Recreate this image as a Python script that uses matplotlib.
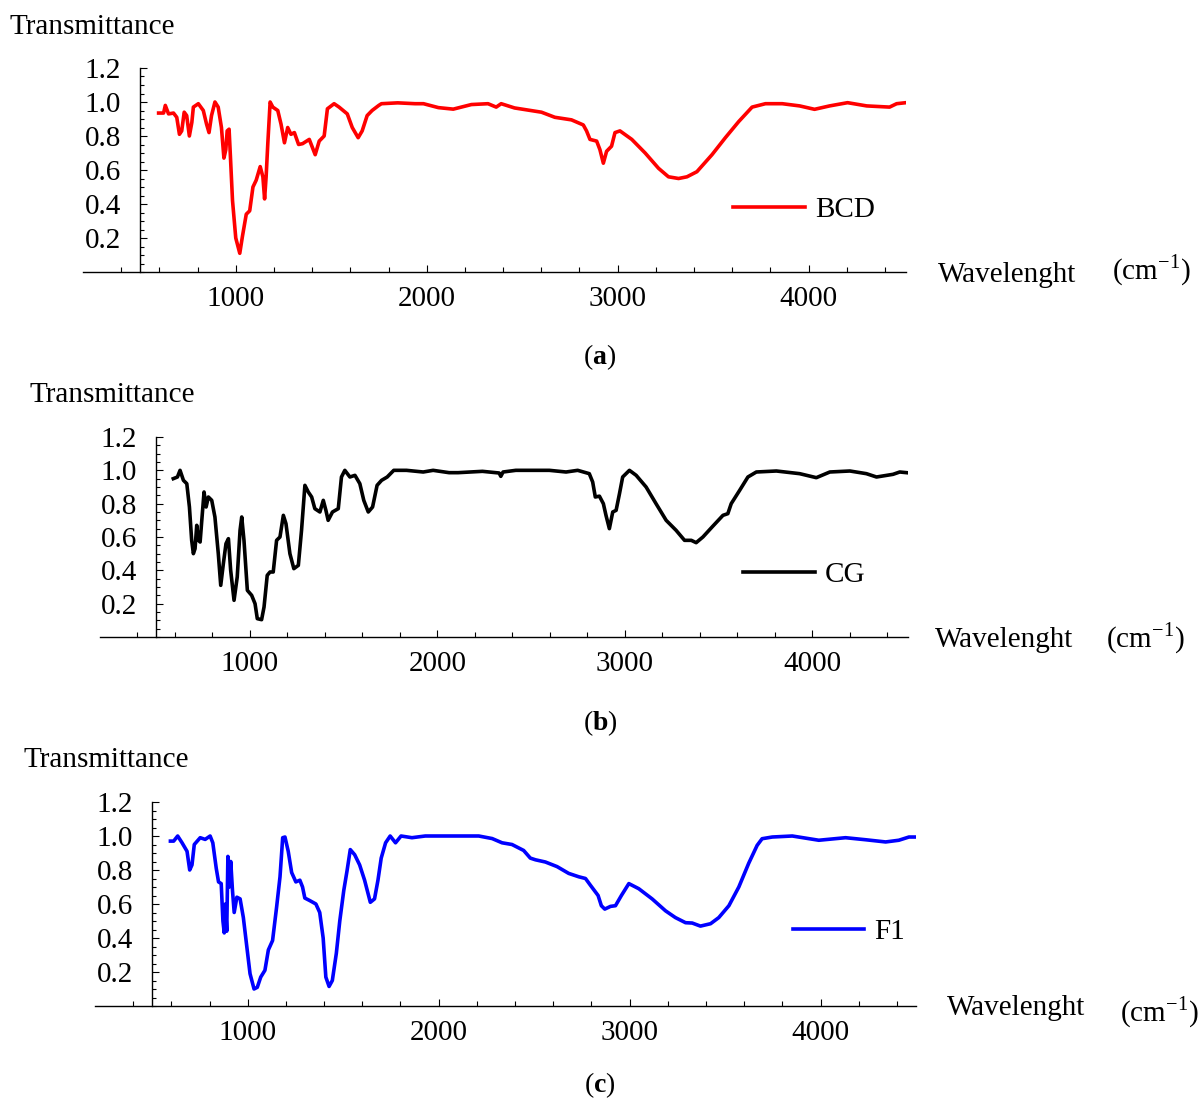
import matplotlib
matplotlib.use("Agg")
import matplotlib.pyplot as plt
from matplotlib.ticker import FixedLocator, MultipleLocator, FormatStrFormatter

plt.rcParams['font.family'] = ['Liberation Serif', 'DejaVu Serif']
plt.rcParams['mathtext.fontset'] = 'custom'
plt.rcParams['mathtext.rm'] = 'Liberation Serif'
plt.rcParams['mathtext.bf'] = 'Liberation Serif:bold'

# FTIR spectra (wavenumber in cm^-1, transmittance)
bcd_x = [596, 622, 631, 648, 674, 691, 705, 717, 730, 743, 757, 770, 778, 804, 830, 847,
         860, 873, 891, 908, 925, 938, 948, 955, 965, 972, 983, 1000, 1021, 1035, 1055,
         1073, 1090, 1107, 1128, 1142, 1151, 1159, 1168, 1180, 1194, 1220, 1237, 1255,
         1272, 1289, 1307, 1329, 1350, 1385, 1416, 1437, 1463, 1480, 1515, 1541, 1584,
         1610, 1641, 1662, 1688, 1714, 1749, 1763, 1848, 1939, 1983, 2061, 2139, 2234,
         2321, 2364, 2390, 2460, 2601, 2671, 2758, 2820, 2837, 2855, 2890, 2907, 2925,
         2942, 2968, 2986, 3012, 3074, 3144, 3214, 3266, 3319, 3363, 3415, 3494, 3564,
         3634, 3704, 3774, 3862, 3953, 4031, 4110, 4204, 4304, 4424, 4461, 4510]
bcd_y = [0.935, 0.935, 0.98, 0.93, 0.935, 0.91, 0.81, 0.83, 0.94, 0.92, 0.80, 0.88, 0.97,
         0.99, 0.95, 0.87, 0.82, 0.92, 1.00, 0.97, 0.85, 0.67, 0.72, 0.83, 0.84, 0.68,
         0.42, 0.20, 0.11, 0.21, 0.34, 0.36, 0.50, 0.54, 0.62, 0.56, 0.43, 0.56, 0.76,
         1.00, 0.97, 0.95, 0.87, 0.76, 0.85, 0.81, 0.82, 0.75, 0.755, 0.78, 0.69, 0.77,
         0.80, 0.96, 0.99, 0.97, 0.93, 0.85, 0.79, 0.83, 0.92, 0.95, 0.98, 0.99, 0.995,
         0.99, 0.99, 0.967, 0.958, 0.985, 0.99, 0.97, 0.99, 0.965, 0.94, 0.91, 0.895,
         0.865, 0.83, 0.78, 0.77, 0.72, 0.64, 0.71, 0.74, 0.82, 0.83, 0.78, 0.70, 0.61,
         0.56, 0.55, 0.56, 0.59, 0.69, 0.79, 0.885, 0.97, 0.99, 0.99, 0.977, 0.957,
         0.977, 0.996, 0.977, 0.97, 0.99, 0.996]

cg_x = [591, 613, 627, 645, 663, 677, 689, 698, 707, 716, 725, 734, 743, 755, 766, 778,
        796, 813, 831, 844, 858, 872, 885, 897, 915, 932, 947, 956, 968, 986, 1009, 1027,
        1039, 1062, 1075, 1092, 1107, 1124, 1142, 1160, 1178, 1192, 1213, 1234, 1258,
        1275, 1293, 1311, 1329, 1346, 1373, 1391, 1405, 1417, 1440, 1471, 1488, 1506,
        1533, 1560, 1586, 1607, 1631, 1654, 1678, 1702, 1732, 1767, 1835, 1924, 1977,
        2062, 2110, 2240, 2329, 2338, 2350, 2418, 2597, 2686, 2748, 2810, 2828, 2842,
        2864, 2885, 2899, 2917, 2935, 2953, 2971, 2988, 3024, 3060, 3113, 3166, 3220,
        3273, 3318, 3354, 3380, 3416, 3469, 3523, 3549, 3567, 3612, 3656, 3701, 3808,
        3932, 4021, 4093, 4200, 4288, 4342, 4430, 4466, 4502]
cg_y = [0.95, 0.96, 1.00, 0.94, 0.92, 0.78, 0.58, 0.50, 0.53, 0.67, 0.58, 0.57, 0.70,
        0.87, 0.78, 0.84, 0.82, 0.72, 0.50, 0.31, 0.44, 0.56, 0.59, 0.40, 0.22, 0.36,
        0.64, 0.72, 0.58, 0.28, 0.25, 0.20, 0.11, 0.104, 0.18, 0.37, 0.39, 0.39, 0.58,
        0.60, 0.73, 0.68, 0.50, 0.41, 0.43, 0.64, 0.91, 0.87, 0.84, 0.77, 0.75, 0.82,
        0.76, 0.70, 0.75, 0.77, 0.96, 1.00, 0.96, 0.97, 0.92, 0.82, 0.75, 0.78, 0.91,
        0.94, 0.96, 1.00, 1.00, 0.99, 1.00, 0.986, 0.986, 0.994, 0.984, 0.964, 0.99,
        1.00, 1.00, 0.99, 1.00, 0.98, 0.93, 0.84, 0.845, 0.80, 0.73, 0.65, 0.75, 0.76,
        0.86, 0.96, 1.00, 0.97, 0.90, 0.80, 0.70, 0.64, 0.58, 0.58, 0.566, 0.60, 0.665,
        0.73, 0.74, 0.80, 0.88, 0.96, 0.99, 0.996, 0.98, 0.956, 0.99, 0.996, 0.98, 0.96,
        0.976, 0.99, 0.986]

f1_x = [595, 612, 633, 656, 682, 696, 708, 720, 751, 777, 803, 817, 835, 847, 861, 870,
        877, 883, 890, 896, 903, 911, 920, 929, 943, 960, 977, 995, 1012, 1033, 1050,
        1068, 1090, 1108, 1130, 1151, 1169, 1183, 1195, 1212, 1230, 1252, 1273, 1287,
        1299, 1325, 1357, 1377, 1395, 1409, 1426, 1443, 1464, 1482, 1503, 1520, 1537,
        1560, 1586, 1612, 1642, 1664, 1682, 1699, 1722, 1746, 1774, 1803, 1860, 1930,
        2210, 2280, 2332, 2384, 2445, 2480, 2507, 2559, 2620, 2681, 2734, 2769, 2795,
        2835, 2852, 2870, 2900, 2926, 2957, 2996, 3048, 3118, 3188, 3240, 3293, 3328,
        3371, 3424, 3467, 3520, 3572, 3624, 3668, 3694, 3747, 3852, 3991, 4131, 4236,
        4341, 4410, 4463, 4500]
f1_y = [0.97, 0.97, 1.00, 0.96, 0.91, 0.80, 0.83, 0.95, 0.99, 0.98, 1.00, 0.96, 0.81,
        0.73, 0.72, 0.50, 0.43, 0.60, 0.44, 0.88, 0.70, 0.85, 0.68, 0.55, 0.64, 0.63,
        0.52, 0.35, 0.19, 0.10, 0.11, 0.17, 0.21, 0.33, 0.385, 0.58, 0.76, 0.99, 0.994,
        0.91, 0.785, 0.73, 0.74, 0.70, 0.635, 0.62, 0.60, 0.55, 0.40, 0.17, 0.115, 0.15,
        0.31, 0.50, 0.68, 0.795, 0.92, 0.89, 0.83, 0.74, 0.61, 0.63, 0.74, 0.87, 0.96,
        1.00, 0.96, 1.00, 0.99, 1.00, 1.00, 0.985, 0.96, 0.95, 0.915, 0.87, 0.86, 0.847,
        0.82, 0.78, 0.76, 0.75, 0.71, 0.65, 0.59, 0.57, 0.586, 0.59, 0.65, 0.72, 0.69,
        0.63, 0.56, 0.52, 0.49, 0.488, 0.47, 0.484, 0.52, 0.59, 0.70, 0.84, 0.945,
        0.984, 0.994, 1.00, 0.975, 0.99, 0.978, 0.965, 0.975, 0.994, 0.994]

W, H = 1203, 1101
fig = plt.figure(figsize=(W / 100, H / 100), dpi=100)


def fx(x, y):
    return x / W, 1 - y / H


# (name, x, y, colour, axes px box [left, right, top, bottom], xmax, legend anchor,
#  label pixel spots, caption)
panels = [
    ("BCD", bcd_x, bcd_y, "#ff0000", (83, 906, 68, 272), 4510, (0.79, 0.304),
     (10, 27), (938, 275), (1112, 270), (600, 357), "a"),
    ("CG", cg_x, cg_y, "#000000", (100, 908, 437, 637), 4510, (0.796, 0.31),
     (30, 395), (935, 640), (1106, 638), (600, 723), "b"),
    ("F1", f1_x, f1_y, "#0000ff", (95, 916, 802, 1006), 4500, (0.85, 0.363),
     (23, 760), (947, 1008), (1120, 1012), (600, 1085), "c"),
]

fs = 21
for (name, xs, ys, col, box, xmax, leg, tpos, wpos, cpos, cappos, tag) in panels:
    l, r, t, b = box
    ax = fig.add_axes([l / W, 1 - b / H, (r - l) / W, (b - t) / H])
    ax.plot(xs, ys, color=col, lw=2.6, label=name)
    ax.set_xlim(200, xmax)
    ax.set_ylim(0, 1.2)
    ax.spines['top'].set_visible(False)
    ax.spines['right'].set_visible(False)
    ax.spines['left'].set_position(('data', 500))
    ax.spines['left'].set_linewidth(1.0)
    ax.spines['bottom'].set_linewidth(1.0)

    ax.xaxis.set_major_locator(FixedLocator([1000, 2000, 3000, 4000]))
    ax.xaxis.set_minor_locator(FixedLocator([v for v in range(400, 4500, 200) if v % 1000]))
    ax.yaxis.set_major_locator(FixedLocator([0.2, 0.4, 0.6, 0.8, 1.0, 1.2]))
    ax.yaxis.set_minor_locator(MultipleLocator(0.05))
    ax.yaxis.set_major_formatter(FormatStrFormatter('%.1f'))
    ax.tick_params(which='both', direction='in', width=0.8, labelsize=fs)
    ax.tick_params(axis='x', which='major', length=5, pad=10)
    ax.tick_params(axis='x', which='minor', length=3.5)
    ax.tick_params(axis='y', which='major', length=5, pad=14)
    ax.tick_params(axis='y', which='minor', length=3)

    ax.legend(loc='center left', bbox_to_anchor=leg, frameon=False, fontsize=fs,
              handlelength=2.45, handletextpad=0.35, borderpad=0, borderaxespad=0)

    fig.text(*fx(*tpos), "Transmittance", fontsize=fs, va='center', ha='left')
    fig.text(*fx(*wpos), "Wavelenght", fontsize=fs, va='center', ha='left')
    fig.text(*fx(*cpos), "(cm$^{-1}$)", fontsize=fs, va='center', ha='left')
    fig.text(*fx(*cappos), "($\\mathbf{" + tag + "}$)", fontsize=20, va='center', ha='center')

fig.savefig("out.png", dpi=100)
